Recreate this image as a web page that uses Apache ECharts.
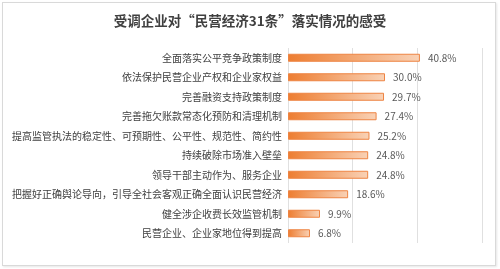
<!DOCTYPE html>
<html>
<head>
<meta charset="utf-8">
<script src="https://cdn.jsdelivr.net/npm/echarts@6/dist/echarts.min.js"></script>
<style>
  html,body{margin:0;padding:0;background:#fff;}
  #frame{position:absolute;left:2px;top:2px;width:492px;height:262px;border:1px solid #d9d9d9;box-shadow:1px 1px 2px #e6e6e6;}
  #chart{position:absolute;left:0;top:0;width:500px;height:269px;}
</style>
</head>
<body>
<div id="frame"></div>
<div id="chart"></div>
<script>
// 受调企业对“民营经济31条”落实情况的感受
const titleText = "受调企业对“民营经济31条”落实情况的感受";

const categories = [
  "全面落实公平竞争政策制度",
  "依法保护民营企业产权和企业家权益",
  "完善融资支持政策制度",
  "完善拖欠账款常态化预防和清理机制",
  "提高监管执法的稳定性、可预期性、公平性、规范性、简约性",
  "持续破除市场准入壁垒",
  "领导干部主动作为、服务企业",
  "把握好正确舆论导向，引导全社会客观正确全面认识民营经济",
  "健全涉企收费长效监管机制",
  "民营企业、企业家地位得到提高"
];

const shares = [40.8, 30.0, 29.7, 27.4, 25.2, 24.8, 24.8, 18.6, 9.9, 6.8];

const xTicks = {min: 0, max: 60, interval: 20};

const chart = echarts.init(document.getElementById("chart"));

const barFill = new echarts.graphic.LinearGradient(0, 0, 1, 0, [
  {offset: 0, color: "#ED7D31"},
  {offset: 1, color: "#F9D2B6"}
]);

chart.setOption({
  animation: false,
  textStyle: {fontFamily: "Noto Sans CJK SC"},
  title: {
    text: titleText,
    left: "center",
    top: 9,
    textStyle: {fontSize: 13.5, fontWeight: "bold", color: "#404040", fontFamily: "Noto Sans CJK SC"}
  },
  grid: {left: 288, right: 18, top: 48, bottom: 26, containLabel: false},
  xAxis: {
    type: "value",
    min: xTicks.min,
    max: xTicks.max,
    interval: xTicks.interval,
    axisLabel: {show: false},
    axisLine: {show: false},
    axisTick: {show: false},
    splitLine: {lineStyle: {color: "#e0e0e0", width: 1}}
  },
  yAxis: {
    type: "category",
    inverse: true,
    data: categories,
    axisLine: {show: false},
    axisTick: {show: false},
    axisLabel: {fontSize: 10, color: "#404040", margin: 6, fontFamily: "Noto Sans CJK SC"}
  },
  series: [{
    type: "bar",
    data: shares,
    barWidth: 8,
    itemStyle: {color: barFill, borderColor: "#EE8443", borderWidth: 1},
    label: {
      show: true,
      position: "right",
      distance: 8,
      fontSize: 10,
      color: "#595959",
      formatter: p => p.value.toFixed(1) + "%"
    }
  }]
});
</script>
</body>
</html>
